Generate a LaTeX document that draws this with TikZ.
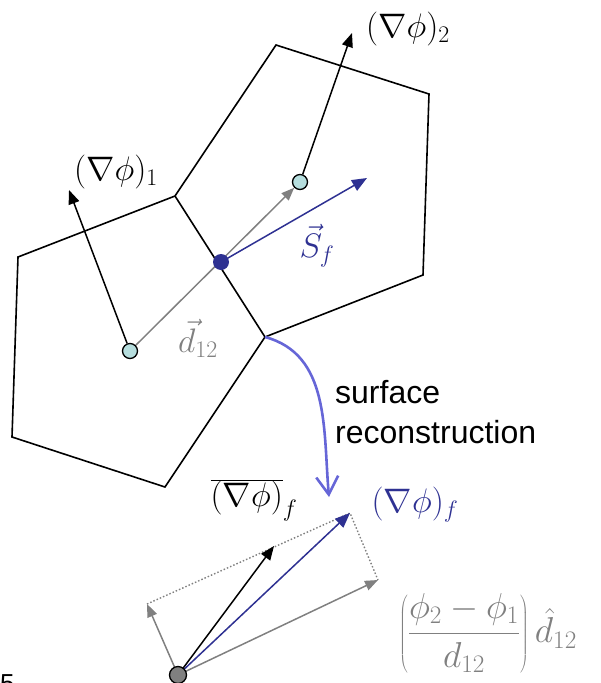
\documentclass[tikz,border=0pt]{standalone}
\usepackage{fix-cm}
\usepackage{fontspec}
\newfontfamily\arialf{Liberation Sans}
\usetikzlibrary{arrows.meta}
\definecolor{navy}{RGB}{46,49,146}
\definecolor{lilac}{RGB}{102,102,215}
\definecolor{tealfill}{RGB}{182,222,222}
\definecolor{grayc}{RGB}{128,128,128}
\tikzset{
  celledge/.style={line width=1.6pt, line join=miter},
  ctr/.style={circle, draw=black, line width=1.3pt, fill=tealfill, minimum size=15pt, inner sep=0pt},
  blackvec/.style={line width=1.5pt, -{Triangle[length=14pt,width=11pt]}},
  grayvec/.style={line width=1.5pt, grayc, -{Triangle[length=13pt,width=10pt]}},
  bluevec/.style={line width=1.5pt, navy, -{Triangle[length=15pt,width=12pt]}},
  dotline/.style={line width=1.4pt, grayc, dash pattern=on 1.5pt off 2pt},
  mathlbl/.style={inner sep=0pt, font=\fontsize{34}{40}\selectfont},
}
\begin{document}
\begin{tikzpicture}[x=1pt,y=-1pt]
\useasboundingbox (0,0) rectangle (600,683);
\clip (0,0) rectangle (600,683);
% vertices
\coordinate (va) at (175,196);
\coordinate (vb) at (265,337);
\coordinate (l1) at (18,257);
\coordinate (l2) at (12,437);
\coordinate (l3) at (165,487);
\coordinate (r1) at (276,45);
\coordinate (r2) at (429,94);
\coordinate (r3) at (423,275);
% cells
\draw[celledge] (va) -- (l1) -- (l2) -- (l3) -- (vb);
\draw[celledge] (va) -- (r1) -- (r2) -- (r3) -- (vb);
\draw[celledge] (va) -- (vb);
% centres
\node[ctr] (c1) at (130,351) {};
\node[ctr] (c2) at (300,182) {};
% gradient arrows
\coordinate (g1) at (69,190);
\coordinate (g2) at (352,33);
\draw[blackvec] (c1) -- (g1);
\draw[blackvec] (c2) -- (g2);
% d12
\draw[grayvec] (c1) -- (c2);
% face centre
\node[circle, fill=navy, minimum size=16pt, inner sep=0pt] (f) at (221,262) {};
\coordinate (s) at (367,178);
\draw[bluevec] (f.center) -- (s);
% labels
\node[mathlbl] (lg1) at (116,172) {$(\nabla\phi)_1$};
\node[mathlbl] (lg2) at (408,29) {$(\nabla\phi)_2$};
\node[mathlbl, text=navy] (ls) at (317,246) {$\vec{S}_f$};
\node[mathlbl, text=grayc] (ld) at (198,338) {$\vec{d}_{12}$};
% curved arrow
\coordinate (ce) at (329,497);
\draw[lilac, line width=2.6pt, -{Straight Barb[length=18pt,width=22pt,line width=2.6pt]}] (vb) to[out=-15,in=95] (ce);
\node[font=\arialf\fontsize{32}{40}\selectfont, anchor=base west, align=left, inner sep=0pt] (sr) at (335,443) {surface\\reconstruction};
% bottom diagram
\coordinate (oc) at (178,675);
\coordinate (pa) at (147,604);
\coordinate (pb) at (378,580);
\coordinate (pc) at (350,513);
\coordinate (pm) at (274,546);
\draw[dotline] (pa) -- (pc) -- (pb);
\draw[grayvec] (oc) -- (pa);
\draw[grayvec] (oc) -- (pb);
\draw[blackvec] (oc) -- (pm);
\draw[bluevec] (oc) -- (pc);
\node[circle, draw=black, line width=1.3pt, fill=grayc, minimum size=17pt, inner sep=0pt] (o) at (oc) {};
\node[mathlbl] (lbar) at (254,500) {$\overline{(\nabla\phi)}_f$};
\node[mathlbl, text=navy] (lf) at (415,505) {$(\nabla\phi)_f$};
\node[mathlbl, text=grayc, font=\fontsize{36}{42}\selectfont] (lfrac) at (488,633) {$\displaystyle\left(\frac{\phi_2-\phi_1}{d_{12}}\right)\hat{d}_{12}$};
\node[font=\arialf\fontsize{26}{30}\selectfont, anchor=base west, inner sep=0pt] (pg) at (0,692) {5};
\end{tikzpicture}
\end{document}
